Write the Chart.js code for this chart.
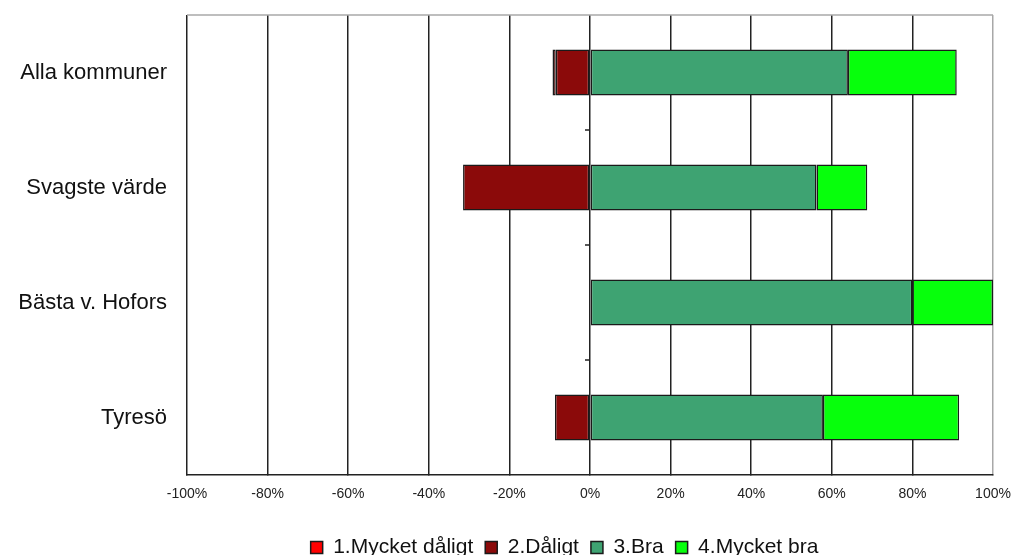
<!DOCTYPE html>
<html>
<head>
<meta charset="utf-8">
<script src="https://cdn.jsdelivr.net/npm/chart.js@4/dist/chart.umd.min.js"></script>
<style>
  html, body { margin: 0; padding: 0; background: #fff; }
  #wrap { width: 1016px; height: 555px; }
</style>
</head>
<body>
<div id="wrap"><canvas id="chart"></canvas></div>
<script>
// data
const categories = ['Alla kommuner', 'Svagste värde', 'Bästa v. Hofors', 'Tyresö']
const seriesNames = ['1.Mycket dåligt', '2.Dåligt', '3.Bra', '4.Mycket bra']
const mycketDaligt = [-0.8, 0, 0, 0]
const daligt = [-8.5, -31.5, 0, -8.7]
const bra = [64, 56.2, 80, 57.8]
const mycketBra = [27, 12.6, 20, 33.8]
const tickValues = [-100, -80, -60, -40, -20, 0, 20, 40, 60, 80, 100]

const colors = ['#ff0000', '#8b0a0a', '#3ea372', '#07ff0c']
const font = "'Liberation Sans', Arial, sans-serif"

// frame bits: gray top border and small ticks on the zero line
const framePlugin = {
  id: 'frame',
  afterLayout(chart) {
    // legend in the original sits a bit right of the canvas centre
    chart.legend.left += 68
    chart.legend.right += 68
  },
  afterDraw(chart) {
    const { ctx, chartArea, scales } = chart
    ctx.save()
    ctx.strokeStyle = '#a8a8a8'
    ctx.lineWidth = 1.5
    ctx.beginPath()
    ctx.moveTo(chartArea.left, chartArea.top)
    ctx.lineTo(chartArea.right, chartArea.top)
    ctx.stroke()
    const x0 = scales.x.getPixelForValue(0)
    ctx.strokeStyle = '#222'
    for (let i = 1; i < categories.length; i++) {
      const y = (scales.y.getPixelForValue(i - 1) + scales.y.getPixelForValue(i)) / 2
      ctx.beginPath()
      ctx.moveTo(x0 - 5, y)
      ctx.lineTo(x0, y)
      ctx.stroke()
    }
    ctx.restore()
  },
}

const values = [mycketDaligt, daligt, bra, mycketBra]
const stackOrder = [1, 0, 2, 3]

new Chart(document.querySelector('#chart'), {
  type: 'bar',
  data: {
    labels: categories,
    datasets: seriesNames.map((name, i) => ({
      label: name,
      data: values[i],
      backgroundColor: colors[i],
      borderColor: '#1a1a1a',
      borderWidth: 1.5,
      borderSkipped: false,
      order: stackOrder[i],
      barPercentage: 0.4,
      categoryPercentage: 1,
    })),
  },
  options: {
    indexAxis: 'y',
    responsive: true,
    maintainAspectRatio: false,
    animation: false,
    layout: { padding: { top: 15, right: 23, left: 0, bottom: -13 } },
    scales: {
      x: {
        stacked: true,
        min: -100,
        max: 100,
        afterBuildTicks: (scale) => {
          scale.ticks = tickValues.map((v) => ({ value: v }))
        },
        afterFit: (scale) => {
          scale.height = 50
          scale.paddingLeft = 0
          scale.paddingRight = 0
        },
        grid: {
          color: (c) => (c.index === tickValues.length - 1 ? '#a8a8a8' : '#222'),
          lineWidth: 1.5,
          tickLength: 0,
        },
        border: { color: '#222', width: 1.5 },
        ticks: {
          color: '#222',
          padding: 11,
          font: { family: font, size: 14 },
          callback: (v) => v + '%',
        },
      },
      y: {
        stacked: true,
        afterFit: (scale) => {
          scale.width = 187
          scale.paddingTop = 0
          scale.paddingBottom = 0
        },
        grid: { display: false, drawTicks: false },
        border: { display: false },
        ticks: {
          color: '#111',
          padding: 20,
          font: { family: font, size: 22 },
        },
      },
    },
    plugins: {
      legend: {
        position: 'bottom',
        labels: {
          boxWidth: 12,
          boxHeight: 12,
          padding: 12,
          color: '#111',
          font: { family: font, size: 21 },
          sort: (a, b) => a.datasetIndex - b.datasetIndex,
        },
      },
      tooltip: { enabled: false },
    },
  },
  plugins: [framePlugin],
})
</script>
</body>
</html>
